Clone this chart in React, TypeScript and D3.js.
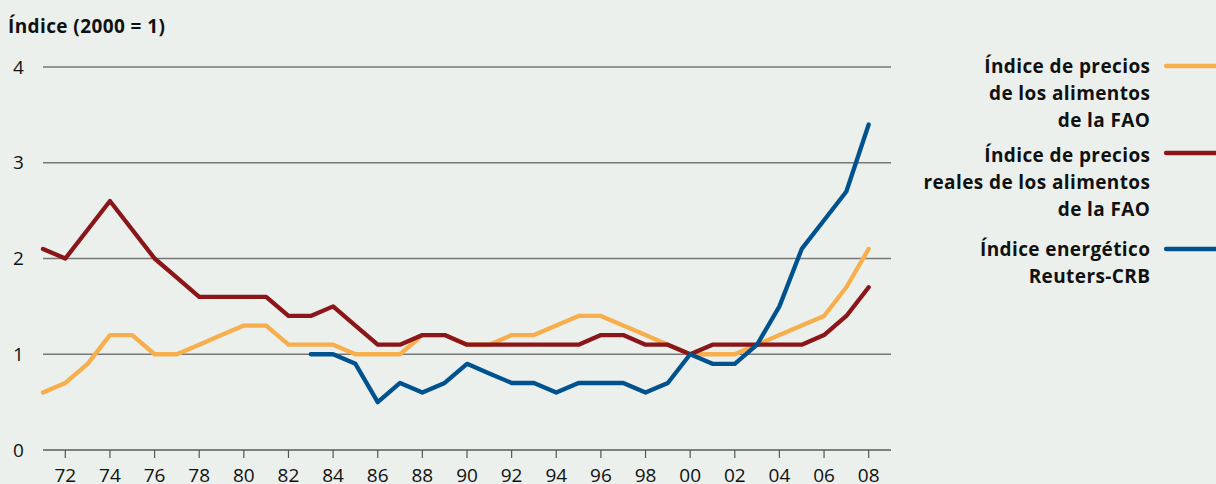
import React from "react";
import * as d3 from "d3";

const years = d3.range(1971, 2009);
const fao = [0.6,0.7,0.9,1.2,1.2,1.0,1.0,1.1,1.2,1.3,1.3,1.1,1.1,1.1,1.0,1.0,1.0,1.2,1.2,1.1,1.1,1.2,1.2,1.3,1.4,1.4,1.3,1.2,1.1,1.0,1.0,1.0,1.1,1.2,1.3,1.4,1.7,2.1];
const faoReal = [2.1,2.0,2.3,2.6,2.3,2.0,1.8,1.6,1.6,1.6,1.6,1.4,1.4,1.5,1.3,1.1,1.1,1.2,1.2,1.1,1.1,1.1,1.1,1.1,1.1,1.2,1.2,1.1,1.1,1.0,1.1,1.1,1.1,1.1,1.1,1.2,1.4,1.7];
const energyYears = d3.range(1983, 2009);
const energy = [1.0,1.0,0.9,0.5,0.7,0.6,0.7,0.9,0.8,0.7,0.7,0.6,0.7,0.7,0.7,0.6,0.7,1.0,0.9,0.9,1.1,1.5,2.1,2.4,2.7,3.4];
const yTicks = [0, 1, 2, 3, 4];
const xTicks = d3.range(1972, 2009, 2);

const series = [
  { name: ["Índice de precios", "de los alimentos", "de la FAO"], color: "#F7AE4C", xs: years, ys: fao },
  { name: ["Índice de precios", "reales de los alimentos", "de la FAO"], color: "#8B1619", xs: years, ys: faoReal },
  { name: ["Índice energético", "Reuters-CRB"], color: "#00528F", xs: energyYears, ys: energy },
];

const W = 1216, H = 484;
const FONT = "'Open Sans', 'Noto Sans', sans-serif";
const LS = 0.4;

export default function App() {
  const x = d3.scaleLinear().domain([1971, 2009]).range([43, 891]);
  const y = d3.scaleLinear().domain([0, 4]).range([450, 67]);
  const line = d3.line<[number, number]>().x(d => x(d[0])).y(d => y(d[1]));
  const legendY = [66, 153, 249];
  const legendOff = [7, 9, 7];
  return (
    <svg width={W} height={H} style={{ position: "absolute", left: 0, top: 0 }} fontFamily={FONT}>
      <rect width={W} height={H} fill="#EBF0EC" />
      <text x={8} y={33} fontSize={19} fontWeight="bold" letterSpacing={LS} fill="#111">Índice (2000 = 1)</text>
      {yTicks.map(t => (
        <g key={t}>
          {t > 0 && <line x1={43} x2={891} y1={y(t)} y2={y(t)} stroke="#777" strokeWidth={1.5} />}
          <text x={18.5} y={y(t) + 6.5} fontSize={19} textAnchor="middle" fill="#111">{t}</text>
        </g>
      ))}
      <line x1={43} x2={891} y1={y(0)} y2={y(0)} stroke="#111" strokeWidth={1.2} />
      {xTicks.map(t => (
        <g key={t}>
          <line x1={x(t)} x2={x(t)} y1={y(0)} y2={y(0) + 8} stroke="#555" strokeWidth={1.2} />
          <text x={x(t)} y={482} fontSize={19} textAnchor="middle" fill="#111">{String(t % 100).padStart(2, "0")}</text>
        </g>
      ))}
      {series.map((s, i) => (
        <path key={i} d={line(s.xs.map((v, j) => [v, s.ys[j]]) as [number, number][]) || ""}
          fill="none" stroke={s.color} strokeWidth={4.3} strokeLinejoin="round" strokeLinecap="round" />
      ))}
      {series.map((s, i) => (
        <g key={"l" + i}>
          <line x1={1166} x2={1222} y1={legendY[i]} y2={legendY[i]} stroke={s.color} strokeWidth={4.3} strokeLinecap="round" />
          {s.name.map((n, k) => (
            <text key={k} x={1150 + LS} y={legendY[i] + legendOff[i] + k * 27} fontSize={19} fontWeight="bold" letterSpacing={LS} textAnchor="end" fill="#111">{n}</text>
          ))}
        </g>
      ))}
    </svg>
  );
}
